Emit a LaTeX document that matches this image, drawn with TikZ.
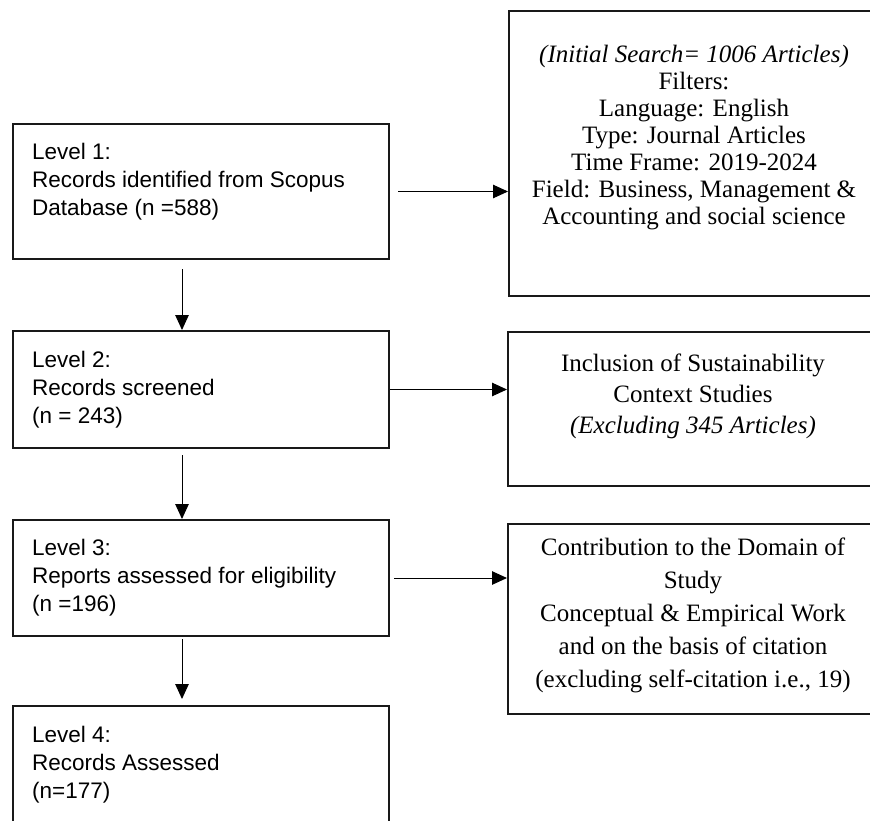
\documentclass[tikz,border=0pt]{standalone}
\usepackage{fontspec}
\setmainfont{Liberation Serif}
\newfontfamily\lvlfont{Liberation Sans}
\usetikzlibrary{arrows.meta, positioning}
\tikzset{
  stagebox/.style={rectangle, draw=black!90, line width=2pt,
                   inner sep=0pt, anchor=north west},
  lvl/.style={font={\lvlfont\fontsize{22.5pt}{28pt}\selectfont},
              align=left, inner sep=0pt},
  flt/.style={font={\fontsize{25pt}{#1}\selectfont},
              align=center, inner sep=0pt},
  arr/.style={-{Triangle[length=15pt,width=13.5pt]}, line width=1pt},
}

\begin{document}
\begin{tikzpicture}[x=1pt, y=-1pt]
  \useasboundingbox (0,0) rectangle (870,820);
  \clip (0,0) rectangle (870,820);

  % ── Level boxes ────────────────────────────────────────────────────────────
  \node[stagebox, minimum width=376pt, minimum height=135pt] at (12,123) (l1) {};
  \node[stagebox, minimum width=376pt, minimum height=117pt] at (12,330) (l2) {};
  \node[stagebox, minimum width=376pt, minimum height=116pt] at (12,519) (l3) {};
  \node[stagebox, minimum width=376pt, minimum height=116pt] at (12,705) (l4) {};

  % ── Filter boxes ───────────────────────────────────────────────────────────
  \node[stagebox, minimum width=370pt, minimum height=285pt] at (508,10)  (f1) {};
  \node[stagebox, minimum width=370pt, minimum height=154pt] at (507,331) (f2) {};
  \node[stagebox, minimum width=370pt, minimum height=190pt] at (507,523) (f3) {};

  % ── Texts ──────────────────────────────────────────────────────────────────
  \node[lvl, below right=20pt and 20pt of l1.north west] (l1txt)
    {Level 1:\\Records identified from Scopus\\Database (n =588)};
  \node[lvl, below right=21pt and 20pt of l2.north west] (l2txt)
    {Level 2:\\Records screened\\(n = 243)};
  \node[lvl, below right=20pt and 20pt of l3.north west] (l3txt)
    {Level 3:\\Reports assessed for eligibility\\(n =196)};
  \node[lvl, below right=21pt and 20pt of l4.north west] (l4txt)
    {Level 4:\\Records Assessed\\(n=177)};

  \node[flt=27pt, below=35pt of f1.north] (f1txt)
    {\textit{(Initial Search= 1006 Articles)}\\Filters:\\Language: English\\
     Type: Journal Articles\\Time Frame: 2019-2024\\
     Field: Business, Management \&\\Accounting and social science};
  \node[flt=31pt, below=23pt of f2.north] (f2txt)
    {Inclusion of Sustainability\\Context Studies\\\textit{(Excluding 345 Articles)}};
  \node[flt=33pt, below=15pt of f3.north] (f3txt)
    {Contribution to the Domain of\\Study\\Conceptual \& Empirical Work\\
     and on the basis of citation\\(excluding self-citation i.e., 19)};

  % ── Arrows ─────────────────────────────────────────────────────────────────
  \draw[arr, shorten <=8pt] (l1.east) -- (l1.east -| f1.west);
  \draw[arr]                (l2.east) -- (l2.east -| f2.west);
  \draw[arr, shorten <=4pt] (l3.east) -- (l3.east -| f3.west);

  \draw[arr, shorten <=9pt] ([xshift=-19pt]l1.south) -- ([xshift=-19pt]l2.north);
  \draw[arr, shorten <=6pt] ([xshift=-19pt]l2.south) -- ([xshift=-19pt]l3.north);
  \draw[arr, shorten <=2pt, shorten >=6pt] ([xshift=-19pt]l3.south) -- ([xshift=-19pt]l4.north);
\end{tikzpicture}
\end{document}
